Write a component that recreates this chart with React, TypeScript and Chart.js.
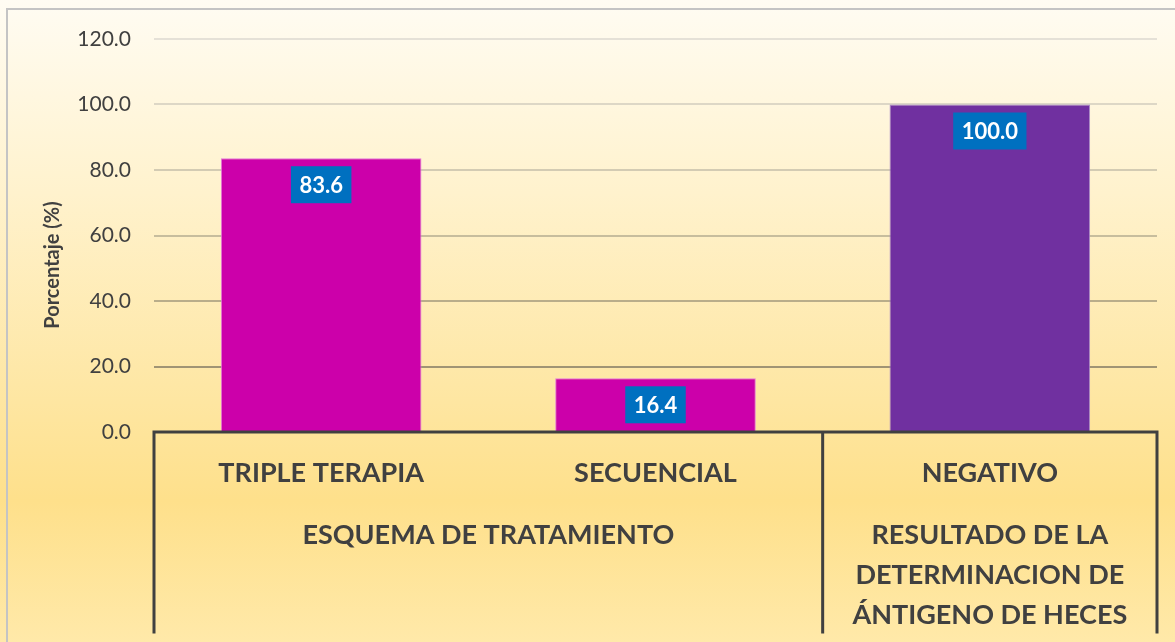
import React, { useEffect, useRef } from "react";
import { Chart, registerables } from "chart.js";

Chart.register(...registerables);

const categories = ["TRIPLE TERAPIA", "SECUENCIAL", "NEGATIVO"];
const values = [83.6, 16.4, 100.0];
const barColors = ["#CC00AA", "#CC00AA", "#7030A0"];
const barBorders = ["#E27AD8", "#E27AD8", "#A98BC9"];
const groups = [
  { lines: ["ESQUEMA DE TRATAMIENTO"], from: 0, to: 1 },
  { lines: ["RESULTADO DE LA", "DETERMINACION DE", "ÁNTIGENO DE HECES"], from: 2, to: 2 },
];
const yTitle = "Porcentaje (%)";
const yMin = 0;
const yMax = 120;
const yStep = 20;
const gridColors = ["rgba(0,0,0,0)", "#A09474", "#B9AD8A", "#C7BD9D", "#D3CBB3", "#DDD7C6", "#E5E1D7"];

const FONT = "Lato, 'Open Sans', sans-serif";
const TEXT = "#404040";

const decorPlugin = {
  id: "decor",
  beforeDraw(chart: any) {
    const { ctx, width, height } = chart;
    ctx.save();
    const g = ctx.createLinearGradient(0, 0, 0, height);
    g.addColorStop(0, "#FFFCF3");
    g.addColorStop(0.3, "#FFF2CD");
    g.addColorStop(0.6, "#FEE7A5");
    g.addColorStop(0.78, "#FEE08B");
    g.addColorStop(1, "#FFE9A9");
    ctx.fillStyle = g;
    ctx.fillRect(0, 0, width, height);
    ctx.strokeStyle = "#C4C4C4";
    ctx.lineWidth = 2;
    ctx.strokeRect(7, 9, width + 20, height + 20);
    // y title
    ctx.translate(53, 265);
    ctx.rotate(-Math.PI / 2);
    ctx.fillStyle = TEXT;
    ctx.font = `bold 20px ${FONT}`;
    ctx.textAlign = "center";
    ctx.textBaseline = "middle";
    ctx.fillText(yTitle, 0, 0);
    ctx.restore();
  },
  afterDatasetsDraw(chart: any) {
    const { ctx } = chart;
    const meta = chart.getDatasetMeta(0);
    ctx.save();
    ctx.font = `bold 22px ${FONT}`;
    ctx.textAlign = "center";
    ctx.textBaseline = "middle";
    meta.data.forEach((bar: any, i: number) => {
      const txt = values[i].toFixed(1);
      const w = ctx.measureText(txt).width + 17;
      const h = 37;
      const top = bar.y + 8;
      ctx.fillStyle = "#0070C0";
      ctx.fillRect(bar.x - w / 2, top, w, h);
      ctx.fillStyle = "#FFFFFF";
      ctx.fillText(txt, bar.x, top + h / 2 + 1);
    });
    ctx.restore();
  },
  afterDraw(chart: any) {
    const { ctx, chartArea } = chart;
    const xs = chart.scales.x;
    const ys = chart.scales.y;
    const y0 = ys.getPixelForValue(0);
    const n = categories.length;
    const cw = (chartArea.right - chartArea.left) / n;
    const edge = (k: number) => chartArea.left + cw * k;
    const bottom = 632;
    ctx.save();
    ctx.strokeStyle = "#404040";
    ctx.lineWidth = 3;
    ctx.lineCap = "square";
    ctx.beginPath();
    ctx.moveTo(chartArea.left, y0);
    ctx.lineTo(chartArea.right, y0);
    const seps = [0];
    groups.forEach((gr) => seps.push(gr.to + 1));
    seps.forEach((k) => {
      ctx.moveTo(edge(k), y0);
      ctx.lineTo(edge(k), bottom);
    });
    ctx.stroke();
    ctx.fillStyle = TEXT;
    ctx.textAlign = "center";
    ctx.textBaseline = "middle";
    ctx.font = `bold 27px ${FONT}`;
    categories.forEach((c, i) => {
      ctx.fillText(c, xs.getPixelForValue(i), 473);
    });
    groups.forEach((gr) => {
      const cx = (edge(gr.from) + edge(gr.to + 1)) / 2;
      gr.lines.forEach((ln, j) => {
        ctx.fillText(ln, cx, 535 + j * 40);
      });
    });
    ctx.restore();
  },
};

export default function App() {
  const ref = useRef<HTMLCanvasElement | null>(null);
  useEffect(() => {
    document.body.style.margin = "0";
    const chart = new Chart(ref.current as HTMLCanvasElement, {
      type: "bar",
      data: {
        labels: categories,
        datasets: [
          {
            data: values,
            backgroundColor: barColors,
            borderColor: barBorders,
            borderWidth: 1,
            categoryPercentage: 1,
            barPercentage: 0.6,
          },
        ],
      },
      options: {
        responsive: false,
        animation: false,
        devicePixelRatio: 1,
        layout: { padding: { top: 39, right: 18, bottom: 210, left: 0 } },
        plugins: { legend: { display: false }, tooltip: { enabled: false } },
        scales: {
          x: { display: false },
          y: {
            min: yMin,
            max: yMax,
            afterFit: (s: any) => {
              s.width = 154;
            },
            border: { display: false },
            grid: {
              drawTicks: false,
              tickLength: 0,
              lineWidth: 2,
              color: (ctx: any) => gridColors[ctx.index] || "#DDD7C6",
            },
            ticks: {
              stepSize: yStep,
              padding: 23,
              color: TEXT,
              font: { family: FONT, size: 21 },
              callback: (v: any) => Number(v).toFixed(1),
            },
          },
        },
      },
      plugins: [decorPlugin],
    });
    return () => chart.destroy();
  }, []);
  return (
    <div style={{ width: 1175, height: 642 }}>
      <canvas ref={ref} width={1175} height={642} />
    </div>
  );
}
